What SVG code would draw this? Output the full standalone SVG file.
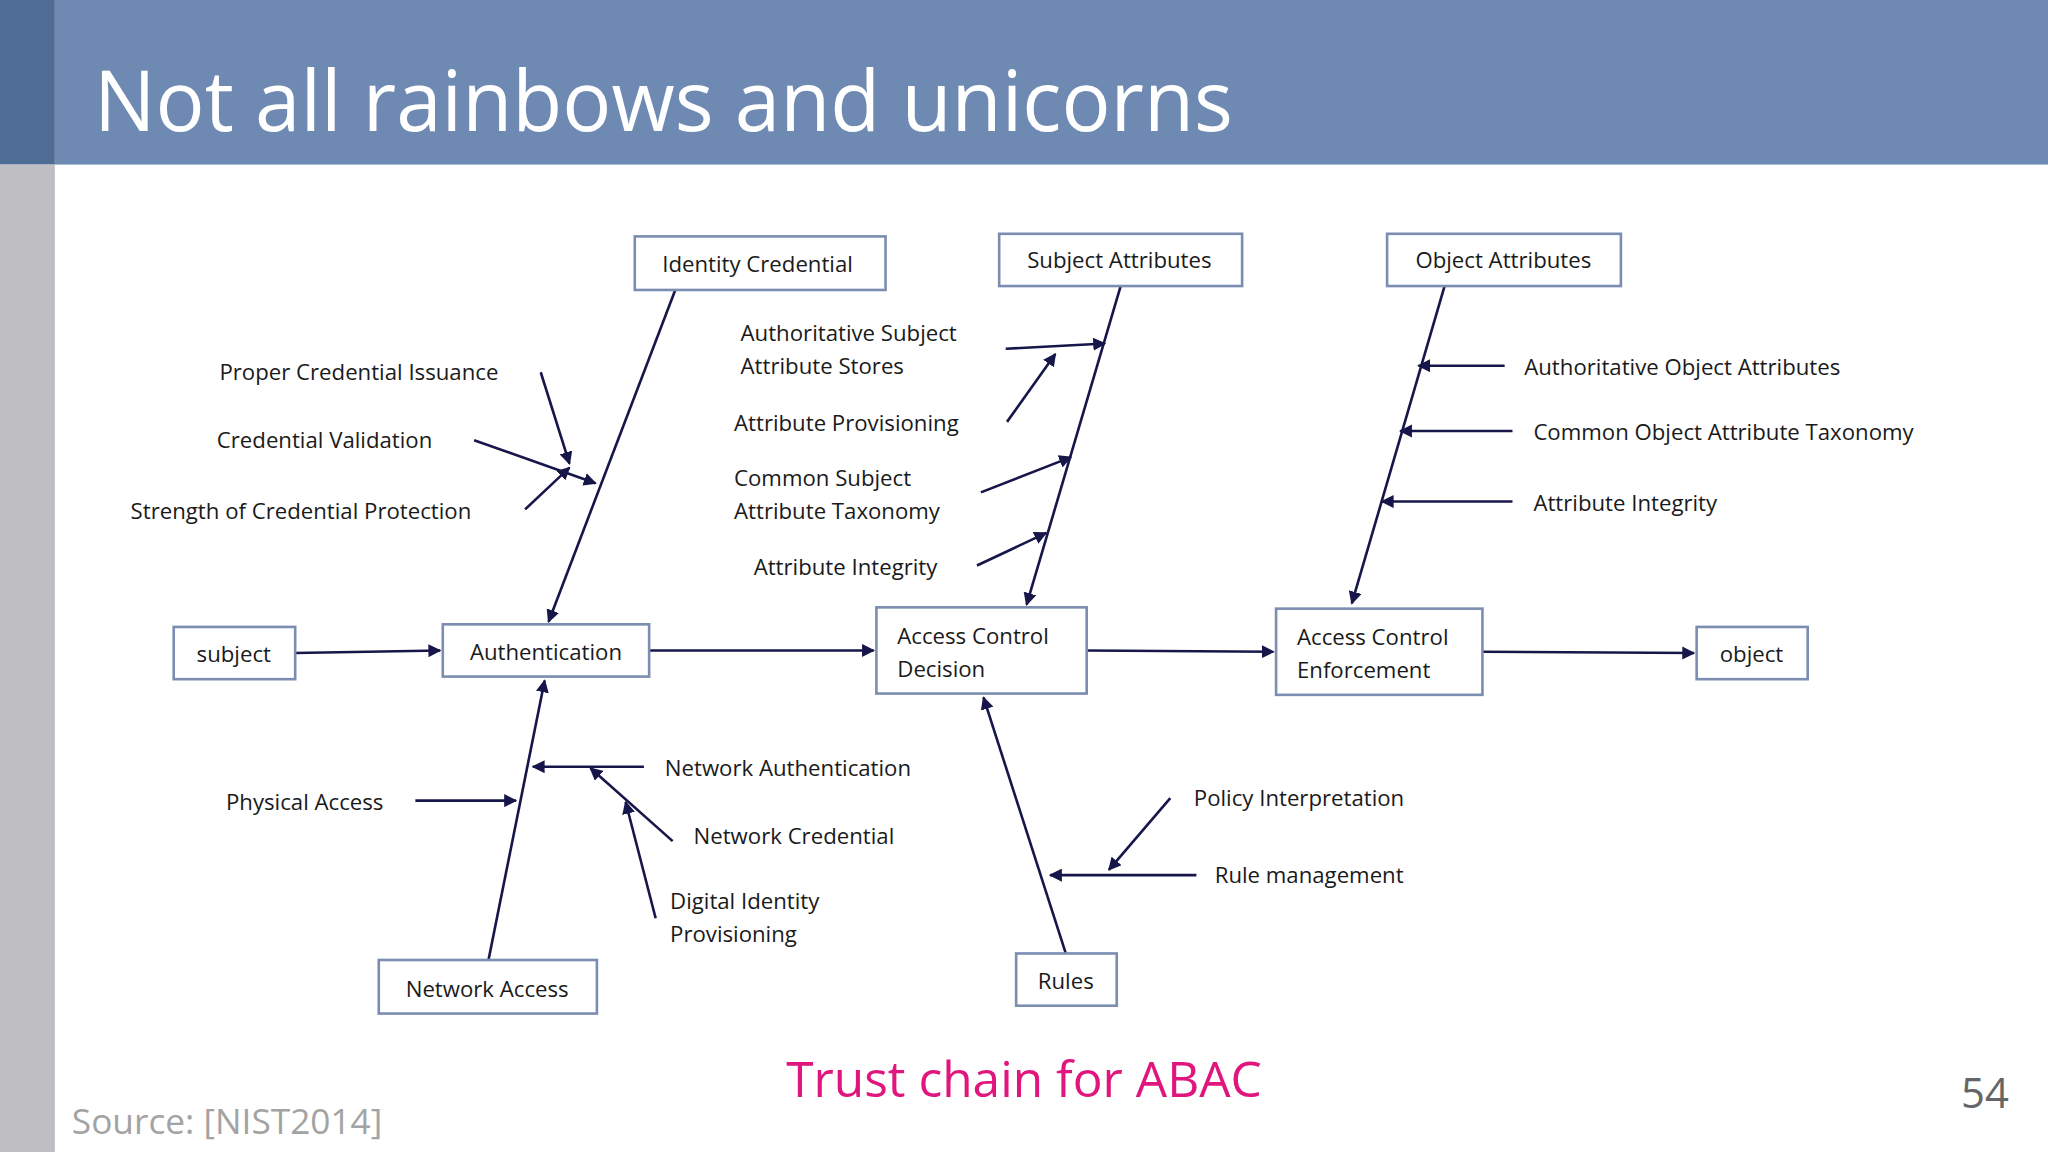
<svg xmlns="http://www.w3.org/2000/svg" width="2048" height="1152" viewBox="0 0 2048 1152">
<defs>
<marker id="ah" viewBox="0 0 10 10" refX="9" refY="5" markerWidth="5" markerHeight="5" orient="auto"><path d="M0,0 L10,5 L0,10 z" fill="#16164a"/></marker>
<style>
.box{fill:#fff;stroke:#7b8db0;stroke-width:2}
.t{font-family:"Open Sans","Noto Sans",sans-serif;font-size:17px;fill:#1a1a1a}
.c{stroke:#16164a;stroke-width:2;fill:none;marker-end:url(#ah)}
</style>
</defs>
<rect width="2048" height="1152" fill="#fff"/>
<g transform="scale(1.30612)">
<rect x="0" y="0" width="42" height="126" fill="#4f6c94"/>
<rect x="0" y="126" width="42" height="756" fill="#bfbec3"/>
<rect x="42" y="0" width="1526" height="126" fill="#6f8ab2"/>
<text x="72" y="100" font-family="Open Sans,Noto Sans,sans-serif" font-size="64" fill="#fff" textLength="872" lengthAdjust="spacingAndGlyphs">Not all rainbows and unicorns</text>

<g id="connectors">
<path class="c" d="M226,500 L337,498"/>
<path class="c" d="M497,498 L669,498"/>
<path class="c" d="M832,498 L975,499"/>
<path class="c" d="M1135,499 L1297,500"/>
<path class="c" d="M517,222 L420,476"/>
<path class="c" d="M858,219 L786,463"/>
<path class="c" d="M1106,219 L1035,462"/>
<path class="c" d="M374,735 L417,521"/>
<path class="c" d="M816,730 L753,534"/>
<path class="c" d="M414,285 L436,355"/>
<path class="c" d="M363,337 L456,370"/>
<path class="c" d="M402,390 L436,358"/>
<path class="c" d="M770,267 L846,263"/>
<path class="c" d="M771,323 L808,271"/>
<path class="c" d="M751,377 L820,350"/>
<path class="c" d="M748,433 L801,408"/>
<path class="c" d="M1152,280 L1086,280"/>
<path class="c" d="M1158,330 L1072,330"/>
<path class="c" d="M1158,384 L1058,384"/>
<path class="c" d="M318,613 L395,613"/>
<path class="c" d="M493,587 L408,587"/>
<path class="c" d="M515,644 L452,588"/>
<path class="c" d="M502,703 L479,614"/>
<path class="c" d="M896,611 L849,666"/>
<path class="c" d="M916,670 L804,670"/>
</g>

<g id="identity-credential"><rect class="box" x="486" y="181" width="192" height="41"/><text class="t" x="580" y="208" text-anchor="middle">Identity Credential</text></g>
<g id="subject-attributes"><rect class="box" x="765" y="179" width="186" height="40"/><text class="t" x="857" y="205" text-anchor="middle">Subject Attributes</text></g>
<g id="object-attributes"><rect class="box" x="1062" y="179" width="179" height="40"/><text class="t" x="1151" y="205" text-anchor="middle">Object Attributes</text></g>
<g id="subject"><rect class="box" x="133" y="480" width="93" height="40"/><text class="t" x="179" y="507" text-anchor="middle">subject</text></g>
<g id="authentication"><rect class="box" x="339" y="478" width="158" height="40"/><text class="t" x="418" y="505" text-anchor="middle">Authentication</text></g>
<g id="acd"><rect class="box" x="671" y="465" width="161" height="66"/><text class="t" x="687" y="493">Access Control</text><text class="t" x="687" y="518">Decision</text></g>
<g id="ace"><rect class="box" x="977" y="466" width="158" height="66"/><text class="t" x="993" y="494">Access Control</text><text class="t" x="993" y="519">Enforcement</text></g>
<g id="object"><rect class="box" x="1299" y="480" width="85" height="40"/><text class="t" x="1341" y="507" text-anchor="middle">object</text></g>
<g id="network-access"><rect class="box" x="290" y="735" width="167" height="41"/><text class="t" x="373" y="763" text-anchor="middle">Network Access</text></g>
<g id="rules"><rect class="box" x="778" y="730" width="77" height="40"/><text class="t" x="816" y="757" text-anchor="middle">Rules</text></g>

<g id="labels">
<text class="t" x="168" y="291">Proper Credential Issuance</text>
<text class="t" x="166" y="343">Credential Validation</text>
<text class="t" x="100" y="397">Strength of Credential Protection</text>
<text class="t" x="567" y="261">Authoritative Subject</text>
<text class="t" x="567" y="286">Attribute Stores</text>
<text class="t" x="562" y="330">Attribute Provisioning</text>
<text class="t" x="562" y="372">Common Subject</text>
<text class="t" x="562" y="397">Attribute Taxonomy</text>
<text class="t" x="577" y="440">Attribute Integrity</text>
<text class="t" x="1167" y="287">Authoritative Object Attributes</text>
<text class="t" x="1174" y="337">Common Object Attribute Taxonomy</text>
<text class="t" x="1174" y="391">Attribute Integrity</text>
<text class="t" x="173" y="620">Physical Access</text>
<text class="t" x="509" y="594">Network Authentication</text>
<text class="t" x="531" y="646">Network Credential</text>
<text class="t" x="513" y="696">Digital Identity</text>
<text class="t" x="513" y="721">Provisioning</text>
<text class="t" x="914" y="617">Policy Interpretation</text>
<text class="t" x="930" y="676">Rule management</text>
</g>
<text x="784" y="840" text-anchor="middle" font-family="Open Sans,Noto Sans,sans-serif" font-size="38" fill="#e0167e">Trust chain for ABAC</text>
<text x="55" y="868" font-family="Open Sans,Noto Sans,sans-serif" font-size="27" fill="#a3a3a3">Source: [NIST2014]</text>
<text x="1538" y="848" text-anchor="end" font-family="Open Sans,Noto Sans,sans-serif" font-size="32" fill="#666">54</text>
</g>
</svg>
